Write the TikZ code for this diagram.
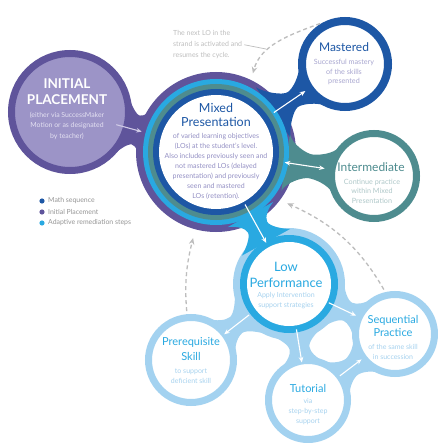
\documentclass[tikz,border=0pt]{standalone}
\usepackage{fontspec}
\setmainfont{Lato}
\usetikzlibrary{calc,arrows.meta}

\definecolor{mathblue}{HTML}{1D57A5}
\definecolor{placepurple}{HTML}{5F549B}
\definecolor{placefill}{HTML}{9C94C7}
\definecolor{remblue}{HTML}{29A9E1}
\definecolor{remlight}{HTML}{A3D2F0}
\definecolor{midteal}{HTML}{4E8C8F}
\definecolor{mainbody}{HTML}{9490C4}
\definecolor{mastbody}{HTML}{A9A7D0}
\definecolor{interbody}{HTML}{AFC8C9}
\definecolor{rembody}{HTML}{A6D2EF}
\definecolor{initbody}{HTML}{E4E1F2}
\definecolor{initarrow}{HTML}{CFCAE6}
\definecolor{notegray}{HTML}{BEBEBE}
\definecolor{dashgray}{HTML}{BDBDBD}
\definecolor{leggray}{HTML}{959595}

% Smooth bridge ("neck") between two circles: points on each rim are joined
% through a narrow waist, the chords fall inside the circles drawn later.
\pgfkeys{/neck/.is family, /neck/.cd,
  col/.store in=\nkcol, ra/.store in=\nkra, rb/.store in=\nkrb,
  a/.store in=\nka, b/.store in=\nkb, w/.store in=\nkw, t/.store in=\nkt,
  h/.store in=\nkh, k/.store in=\nkk}
\pgfkeys{/neck/.cd, col=black, ra=50, rb=50, a=30, b=30, w=8, t=0.5, h=9, k=5}

\newcommand\neck[3][]{%
  \begingroup
  \pgfkeys{/neck/.cd,#1}%
  \fill[\nkcol] let
    \p1=(#2), \p2=(#3),
    \n1={atan2(\y2-\y1,\x2-\x1)},
    \n2={veclen(\x2-\x1,\y2-\y1)},
    \n3={\nkra+\nkt*(\n2-\nkra-\nkrb)},
    \p3=({\x1+\nkra*cos(\n1+\nka)},{\y1+\nkra*sin(\n1+\nka)}),
    \p4=({\x1+\nkra*cos(\n1-\nka)},{\y1+\nkra*sin(\n1-\nka)}),
    \p5=({\x2+\nkrb*cos(\n1+180-\nkb)},{\y2+\nkrb*sin(\n1+180-\nkb)}),
    \p6=({\x2+\nkrb*cos(\n1+180+\nkb)},{\y2+\nkrb*sin(\n1+180+\nkb)}),
    \p7=({\x1+\n3*cos(\n1)-\nkw*sin(\n1)},{\y1+\n3*sin(\n1)+\nkw*cos(\n1)}),
    \p8=({\x1+\n3*cos(\n1)+\nkw*sin(\n1)},{\y1+\n3*sin(\n1)-\nkw*cos(\n1)}),
    \p{a}=({\x3+\nkh*cos(\n1+\nka-90)},{\y3+\nkh*sin(\n1+\nka-90)}),
    \p{b}=({\x7-\nkk*cos(\n1)},{\y7-\nkk*sin(\n1)}),
    \p{c}=({\x7+\nkk*cos(\n1)},{\y7+\nkk*sin(\n1)}),
    \p{d}=({\x5+\nkh*cos(\n1+270-\nkb)},{\y5+\nkh*sin(\n1+270-\nkb)}),
    \p{e}=({\x4+\nkh*cos(\n1-\nka+90)},{\y4+\nkh*sin(\n1-\nka+90)}),
    \p{f}=({\x8-\nkk*cos(\n1)},{\y8-\nkk*sin(\n1)}),
    \p{g}=({\x8+\nkk*cos(\n1)},{\y8+\nkk*sin(\n1)}),
    \p{h}=({\x6+\nkh*cos(\n1+90+\nkb)},{\y6+\nkh*sin(\n1+90+\nkb)})
  in (\p3) .. controls (\p{a}) and (\p{b}) .. (\p7)
        .. controls (\p{c}) and (\p{d}) .. (\p5) -- (\p6)
        .. controls (\p{h}) and (\p{g}) .. (\p8)
        .. controls (\p{f}) and (\p{e}) .. (\p4) -- cycle;
  \endgroup}

\tikzset{
  hub/.style={circle, inner sep=0pt, outer sep=0pt, minimum size=#1},
  ttl/.style={inner sep=0pt, align=center},
  bodytxt/.style={inner sep=0pt, align=center, font=\fontsize{7}{10}\selectfont},
  warrow/.style={draw=white, line width=1.1pt, -{Stealth[length=5.5pt,width=4.6pt]}},
  dasharrow/.style={draw=dashgray, line width=1.3pt, dash pattern=on 4pt off 3pt,
    -{Stealth[length=6.5pt,width=5.5pt]}},
  legdot/.style={circle, inner sep=0pt, minimum size=5.2pt, fill=#1},
  legtxt/.style={inner sep=0pt, anchor=west, text=leggray, font=\fontsize{6.9}{8}\selectfont},
}

\begin{document}
\begin{tikzpicture}[x=1pt, y=-1pt]
\fill[white] (0,0) rectangle (437,443);
\useasboundingbox (0,0) rectangle (437,443);

% circle anchors
\node[hub=160pt] (main)  at (216,152) {};
\node[hub=94pt]  (mast)  at (345,64)  {};
\node[hub=92pt]  (inter) at (374,176) {};
\node[hub=124pt] (init)  at (70,112)  {};
\node[hub=112pt] (low)   at (289,284) {};
\node[hub=92pt]  (pre)   at (191,360) {};
\node[hub=86pt]  (seq)   at (395,334) {};
\node[hub=86pt]  (tut)   at (308,400) {};

% outer rings that the necks merge into
\fill[placepurple] (main) circle[radius=80pt];
\fill[remlight] (low) circle[radius=56pt];

% necks
\neck[col=placepurple, ra=61, rb=76, a=30, b=22, w=15, h=8, k=4]{init}{main}
\neck[col=mathblue, ra=76, rb=46, a=24, b=32, w=9, h=10, k=6]{main}{mast}
\neck[col=midteal, ra=76, rb=45, a=22, b=32, w=12, h=10, k=6]{main}{inter}
\neck[col=remblue, ra=76, rb=55, a=20, b=30, w=11, h=8, k=5]{main}{low}
\neck[col=remlight, ra=55, rb=45, a=30, b=30, w=10]{low}{pre}
\neck[col=remlight, ra=55, rb=42, a=28, b=32, w=10]{low}{tut}
\neck[col=remlight, ra=55, rb=42, a=28, b=32, w=10]{low}{seq}
\neck[col=remlight, ra=42, rb=42, a=32, b=32, w=10]{tut}{seq}

% Mixed Presentation rings
\fill[remblue]  (main) circle[radius=73pt];
\fill[midteal]  (main) circle[radius=68pt];
\fill[mathblue] (main) circle[radius=63pt];
\fill[white]    (main) circle[radius=57pt];

% Low Performance rings
\fill[remblue] (low) circle[radius=49pt];
\fill[white]   (low) circle[radius=42pt];

% single-ring circles
\path[fill=white, draw=mathblue, line width=8pt] (mast) circle[radius=43pt];
\path[fill=white, draw=midteal, line width=7pt] (inter) circle[radius=42.5pt];
\path[fill=placefill, draw=placepurple, line width=7pt] (init) circle[radius=58.5pt];
\path[fill=white, draw=remlight, line width=7pt] (pre) circle[radius=42.5pt];
\path[fill=white, draw=remlight, line width=7pt] (seq) circle[radius=39.5pt];
\path[fill=white, draw=remlight, line width=7pt] (tut) circle[radius=39.5pt];

% texts
\node[ttl, text=white, font=\bfseries\fontsize{13.5}{16}\selectfont] (initttl) at (67,92) {INITIAL\\PLACEMENT};
\node[bodytxt, text=initbody, font=\fontsize{6.9}{10.5}\selectfont] (initbody) at (67,125.5)
  {(either via SuccessMaker\\Motion or as designated\\by teacher)};

\node[ttl, text=mathblue, font=\fontsize{12.5}{14}\selectfont] (mainttl) at (216,115) {Mixed\\Presentation};
\node[bodytxt, text=mainbody, font=\fontsize{7}{10.1}\selectfont] (mainbody) at (216,166.5)
  {of varied learning objectives\\(LOs) at the student’s level.\\Also includes previously seen and\\not mastered LOs (delayed\\presentation) and previously\\seen and mastered\\LOs (retention).};

\node[ttl, text=mathblue, font=\fontsize{12}{13}\selectfont] (mastttl) at (344,47) {Mastered};
\node[bodytxt, text=mastbody, font=\fontsize{7.2}{9.6}\selectfont] (mastbody) at (344,72)
  {Successful mastery\\of the skills\\presented};

\node[ttl, text=midteal, font=\fontsize{12}{13}\selectfont] (interttl) at (371,167) {Intermediate};
\node[bodytxt, text=interbody, font=\fontsize{7.2}{9.6}\selectfont] (interbody) at (372,191)
  {Continue practice\\within Mixed\\Presentation};

\node[ttl, text=remblue, font=\fontsize{13}{16}\selectfont] (lowttl) at (286,275) {Low\\Performance};
\node[bodytxt, text=rembody, font=\fontsize{7}{10}\selectfont] (lowbody) at (286,301)
  {Apply Intervention\\support strategies};

\node[ttl, text=remblue, font=\fontsize{11}{15}\selectfont] (prettl) at (191,349.5) {Prerequisite\\Skill};
\node[bodytxt, text=rembody, font=\fontsize{7}{10}\selectfont] (prebody) at (191,376)
  {to support\\deficient skill};

\node[ttl, text=remblue, font=\fontsize{11}{13}\selectfont] (seqttl) at (393,325.5) {Sequential\\Practice};
\node[bodytxt, text=rembody, font=\fontsize{7}{10}\selectfont] (seqbody) at (393,352)
  {of the same skill\\in succession};

\node[ttl, text=remblue, font=\fontsize{11}{13}\selectfont] (tutttl) at (308,388) {Tutorial};
\node[bodytxt, text=rembody, font=\fontsize{7}{10}\selectfont] (tutbody) at (308,412)
  {via\\step-by-step\\support};

% solid flow arrows
\draw[warrow, draw=initarrow, shorten <=-14pt, shorten >=-3pt] (init) -- (main);
\draw[warrow, shorten <=-10pt, shorten >=1pt] (main) -- (mast);
\draw[warrow, {Stealth[length=5.5pt,width=4.6pt]}-{Stealth[length=5.5pt,width=4.6pt]},
      shorten <=-10.5pt, shorten >=4pt] (main) -- (inter);
\draw[warrow, shorten <=-20pt, shorten >=-9pt] (main) -- (low);
\draw[warrow, shorten <=-5.5pt, shorten >=-4pt] (low) -- (pre);
\draw[warrow, shorten <=-10pt, shorten >=-5pt] (low) -- (tut);
\draw[warrow, shorten <=-12pt, shorten >=0pt] (low) -- (seq);
\draw[warrow, shorten <=-3pt, shorten >=-1pt] (tut) -- (seq);

% dashed return arrows
\draw[dasharrow, shorten <=3pt, shorten >=7pt] (mast.118) to[out=200, in=75] (main.64);
\draw[dasharrow, shorten <=3pt, shorten >=8pt] (seq.103) to[out=120, in=-24] (main.-37);
\draw[dasharrow, shorten <=3pt, shorten >=9pt] (pre.95) to[out=95, in=256] (main.255);

% note on the return arc
\node[inner sep=0pt, anchor=north west, align=left, text=notegray,
      font=\fontsize{7}{11}\selectfont] (note) at (173,30)
  {The next LO in the\\strand is activated and\\resumes the cycle.};
\coordinate (cyclept) at (266,49);
\draw[notegray, line width=0.7pt, shorten <=2pt] (note.east) -- (cyclept);

% legend
\foreach \col/\lab [count=\i] in {mathblue/Math sequence, placepurple/Initial Placement, remblue/Adaptive remediation steps} {
  \node[legdot=\col] (dot\i) at (42,190+11*\i) {};
  \node[legtxt] (leg\i) at (48,190+11*\i) {\lab};
}
\end{tikzpicture}
\end{document}
